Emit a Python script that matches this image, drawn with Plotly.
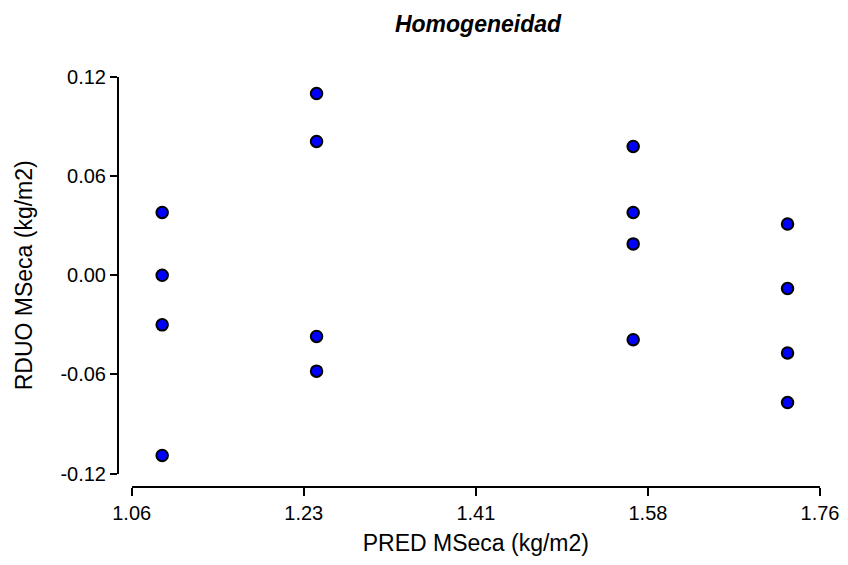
import plotly.graph_objects as go

# Data
pred_mseca = [1.091, 1.091, 1.091, 1.091,
              1.248, 1.248, 1.248, 1.248,
              1.570, 1.570, 1.570, 1.570,
              1.727, 1.727, 1.727, 1.727]
rduo_mseca = [0.038, 0.000, -0.030, -0.109,
              0.110, 0.081, -0.037, -0.058,
              0.078, 0.038, 0.019, -0.039,
              0.031, -0.008, -0.047, -0.077]

x_tickvals = [1.06, 1.235, 1.41, 1.585, 1.76]
x_ticktext = ["1.06", "1.23", "1.41", "1.58", "1.76"]
y_tickvals = [0.12, 0.06, 0.0, -0.06, -0.12]
y_ticktext = ["0.12", "0.06", "0.00", "-0.06", "-0.12"]

W, H = 848, 565
L, R, T, B = 118, 28, 77.3, 78.3
pw = W - L - R
ph = H - T - B

fig = go.Figure()
fig.add_trace(go.Scatter(
    x=pred_mseca, y=rduo_mseca, mode="markers",
    marker=dict(size=11.5, color="#0000FF", line=dict(color="black", width=2)),
    showlegend=False, cliponaxis=False, hoverinfo="skip",
))

font = "Liberation Sans, Arial, sans-serif"
fig.update_layout(
    width=W, height=H,
    margin=dict(l=L, r=R, t=T, b=B, autoexpand=False),
    paper_bgcolor="white", plot_bgcolor="white",
    font=dict(family=font, color="black"),
    title=dict(text="<b><i>Homogeneidad</i></b>", font=dict(size=23, family=font, color="black"),
               xref="container", x=478 / W, xanchor="center",
               yref="container", y=1 - 24 / H, yanchor="middle"),
    xaxis=dict(
        range=[1.06, 1.76], domain=[(131.7 - L) / pw, 1],
        anchor="free", position=0,
        showline=True, linecolor="black", linewidth=2,
        ticks="outside", ticklen=8, tickwidth=2, tickcolor="black",
        tickvals=x_tickvals, ticktext=x_ticktext,
        tickfont=dict(size=20, color="black"),
        showgrid=False, zeroline=False,
        title=dict(text="PRED MSeca (kg/m2)", font=dict(size=23, color="black"), standoff=11),
        automargin=False,
    ),
    yaxis=dict(
        range=[-0.12, 0.12], domain=[(486.7 - 473.3) / ph, 1],
        anchor="free", position=0,
        showline=True, linecolor="black", linewidth=2,
        ticks="outside", ticklen=7, tickwidth=2, tickcolor="black",
        tickvals=y_tickvals, ticktext=y_ticktext,
        tickfont=dict(size=20, color="black"),
        showgrid=False, zeroline=False,
        title=dict(text="RDUO MSeca (kg/m2)", font=dict(size=23, color="black"), standoff=20),
        automargin=False,
    ),
)

fig.write_html("out.html", config={"displayModeBar": False},
               post_script="document.body.style.margin='0';")
